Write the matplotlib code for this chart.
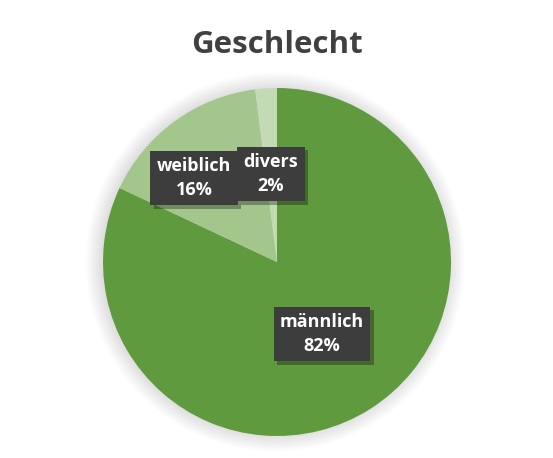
import numpy as np
import matplotlib
matplotlib.use("Agg")
import matplotlib.pyplot as plt
import matplotlib.patheffects as pe
from matplotlib.patches import Circle

# data
categories = ["männlich", "weiblich", "divers"]
shares = [82, 16, 2]
colors = ["#5f9a3e", "#a3c68d", "#c4dab5"]

W, H = 553, 458
cx, cy, r = 277, 262, 174  # pie centre and radius in pixels

fig = plt.figure(figsize=(W / 100, H / 100), dpi=100)
fig.patch.set_facecolor("white")
ax = fig.add_axes([(cx - r) / W, (H - cy - r) / H, 2 * r / W, 2 * r / H])
ax.axis("off")

# soft shadow behind the pie
for k in range(16):
    ax.add_patch(Circle((-0.01, 0.0), 1.0 + 0.006 * k, color="black",
                        alpha=0.009, lw=0, zorder=0, clip_on=False))

wedges, _ = ax.pie(shares, colors=colors, startangle=90, counterclock=False,
                   radius=1.0, wedgeprops=dict(linewidth=0, zorder=1))
ax.set_aspect("equal")
ax.set_xlim(-1, 1)
ax.set_ylim(-1, 1)

font = ["Open Sans", "DejaVu Sans"]

# label positions (px centres of the boxes)
label_px = [(322, 334), (194, 178), (271, 174)]
for name, val, (px, py) in zip(categories, shares, label_px):
    x = (px - cx) / r
    y = (cy - py) / r
    t = ax.text(x, y, f"{name}\n{val}%", ha="center", va="center",
                color="white", fontsize=13, fontweight="bold", family=font,
                linespacing=1.45, zorder=5,
                bbox=dict(boxstyle="square,pad=0.35", fc="#3d3d3d", ec="none"))
    t.get_bbox_patch().set_path_effects(
        [pe.SimplePatchShadow(offset=(2.5, -2.5), shadow_rgbFace="black", alpha=0.3),
         pe.Normal()])

fig.text(cx / W, 1 - 53 / H, "Geschlecht", ha="center", va="baseline",
         fontsize=22.5, fontweight="bold", color="#404040", family=font)

fig.savefig("out.png", dpi=100)
